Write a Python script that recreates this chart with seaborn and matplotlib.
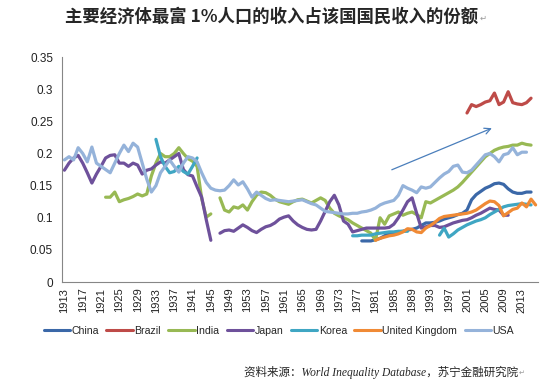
import numpy as np
import pandas as pd
import seaborn as sns
import matplotlib
matplotlib.use("Agg")
import matplotlib.pyplot as plt
from matplotlib.lines import Line2D
from matplotlib.ticker import FuncFormatter, FixedLocator

nan = np.nan

# top 1% income share
china_years = list(range(1978, 2016))
china = [0.064, 0.064, 0.064, 0.066, 0.068, 0.072, 0.076, 0.077, 0.078, 0.079,
         0.081, 0.082, 0.084, 0.088, 0.092, 0.092, 0.093, 0.095, 0.098, 0.100,
         0.102, 0.105, 0.107, 0.112, 0.128, 0.136, 0.141, 0.146, 0.149, 0.153,
         0.154, 0.152, 0.145, 0.140, 0.138, 0.138, 0.140, 0.140]

brazil_years = list(range(2001, 2016))
brazil = [0.263, 0.276, 0.273, 0.276, 0.280, 0.282, 0.294, 0.276, 0.280, 0.296,
          0.279, 0.277, 0.276, 0.279, 0.286]

india_years = list(range(1922, 2016))
india = [0.132, 0.132, 0.140, 0.125, 0.128, 0.130, 0.133, 0.137, 0.134, 0.137,
         0.165, 0.185, 0.200, 0.195, 0.195, 0.200, 0.209, 0.200, 0.192, 0.188,
         0.180, 0.130, 0.101, 0.106, nan,
         0.131, 0.112, 0.109, 0.117, 0.115, 0.120, 0.112, 0.125, 0.135, 0.140,
         0.139, 0.135, 0.129, 0.125, 0.123, 0.121, 0.125, 0.128, 0.129, 0.126,
         0.123, 0.127, 0.131, 0.127, 0.115, 0.107, 0.103, 0.100, 0.097, 0.092,
         0.088, 0.084, 0.080, 0.076, 0.065, 0.100, 0.090, 0.103, 0.106, 0.109,
         0.104, 0.107, 0.109, 0.105, 0.100, 0.125, 0.123, 0.127, 0.131, 0.135,
         0.139, 0.143, 0.148, 0.155, 0.163, 0.171, 0.179, 0.187, 0.195, 0.200,
         0.205, 0.208, 0.210, 0.211, 0.213, 0.213, 0.216, 0.214, 0.213]

japan_years = list(range(1913, 2011))
japan = [0.174, 0.185, 0.193, 0.197, 0.185, 0.170, 0.154, 0.168, 0.180, 0.193,
         0.197, 0.198, 0.185, 0.185, 0.180, 0.185, 0.182, 0.168, 0.174, 0.176,
         0.182, 0.187, 0.185, 0.190, 0.195, 0.200, 0.175, 0.167, 0.165, 0.148,
         0.132, 0.097, 0.065, nan,
         0.076, 0.080, 0.081, 0.079, 0.084, 0.089, 0.085, 0.080, 0.077, 0.082,
         0.086, 0.088, 0.092, 0.098, 0.101, 0.103, 0.095, 0.089, 0.085, 0.082,
         0.081, 0.082, 0.095, 0.110, 0.125, 0.135, 0.120, 0.095, 0.090, 0.078,
         0.080, 0.082, 0.084, 0.084, 0.084, 0.084, 0.084, 0.085, 0.090, 0.100,
         0.112, 0.125, 0.131, 0.107, 0.084, 0.086, 0.088, 0.088, 0.085, 0.086,
         0.089, 0.092, 0.094, 0.096, 0.097, 0.100, 0.104, 0.107, 0.111, 0.115,
         0.113, 0.112, 0.104, 0.104]

korea_years = list(range(1933, 2016))
korea = [0.222, 0.195, 0.180, 0.170, 0.172, 0.180, 0.172, 0.168, 0.180, 0.193] + \
        [nan] * 33 + \
        [0.072, 0.072, 0.073, 0.073, 0.073, 0.075, 0.076, 0.077, 0.078, 0.078,
         0.079, 0.079, 0.079, nan, nan, nan, nan, nan, nan,
         0.073, 0.084, 0.070, 0.075, 0.081, 0.085, 0.089, 0.092, 0.095, 0.097,
         0.100, 0.105, 0.109, 0.113, 0.117, 0.119, 0.120, 0.121, 0.122, 0.121,
         0.120]

uk_years = list(range(1981, 2017))
uk = [0.065, 0.068, 0.070, 0.072, 0.073, 0.075, 0.078, 0.083, 0.082, 0.078,
      0.077, 0.084, 0.088, 0.093, 0.099, 0.102, 0.103, 0.104, 0.105, 0.106,
      0.107, 0.109, 0.112, 0.117, 0.122, 0.126, 0.125, 0.119, 0.103, 0.108,
      0.113, 0.115, 0.123, 0.117, 0.129, 0.120]

usa_years = list(range(1913, 2015))
usa = [0.190, 0.195, 0.190, 0.209, 0.200, 0.187, 0.210, 0.185, 0.180, 0.175,
       0.170, 0.185, 0.200, 0.213, 0.203, 0.216, 0.210, 0.185, 0.160, 0.140,
       0.150, 0.170, 0.180, 0.190, 0.180, 0.171, 0.185, 0.195, 0.193, 0.187,
       0.170, 0.155, 0.146, 0.143, 0.142, 0.143, 0.150, 0.159, 0.151, 0.156,
       0.145, 0.132, 0.140, 0.135, 0.130, 0.127, 0.128, 0.127, 0.126, 0.125,
       0.126, 0.127, 0.128, 0.125, 0.122, 0.120, 0.115, 0.110, 0.109, 0.108,
       0.107, 0.106, 0.106, 0.107, 0.107, 0.109, 0.110, 0.112, 0.115, 0.120,
       0.123, 0.125, 0.127, 0.135, 0.150, 0.146, 0.143, 0.139, 0.148, 0.146,
       0.148, 0.155, 0.162, 0.168, 0.172, 0.180, 0.182, 0.171, 0.170, 0.174,
       0.182, 0.190, 0.198, 0.200, 0.195, 0.187, 0.198, 0.200, 0.209, 0.198,
       0.202, 0.202]

countries = ["China", "Brazil", "India", "Japan", "Korea", "United Kingdom", "USA"]
colors = ["#3B68A8", "#BE4B48", "#98B954", "#6E519B", "#3FA6C3", "#F08A35", "#95B3DA"]

title = "主要经济体最富 1%人口的收入占该国国民收入的份额"
source = "资料来源：World Inequality Database，苏宁金融研究院"


def to_long(name, years, values):
    df = pd.DataFrame({"year": years, "share": values})
    df["country"] = name
    # new segment after every gap so lines are not joined across missing years
    df["seg"] = name + "-" + df["share"].isna().cumsum().astype(str)
    return df.dropna()


series = [(china_years, china), (brazil_years, brazil), (india_years, india),
          (japan_years, japan), (korea_years, korea), (uk_years, uk), (usa_years, usa)]
data = pd.concat([to_long(n, y, v) for n, (y, v) in zip(countries, series)], ignore_index=True)

sns.set_theme(style="white")
plt.rcParams["font.family"] = ["Liberation Sans", "Noto Sans CJK SC", "DejaVu Sans"]

fig = plt.figure(figsize=(5.5, 3.88), dpi=100)
ax = fig.add_axes([0.113, 0.273, 0.865, 0.58])

sns.lineplot(data=data, x="year", y="share", hue="country", hue_order=countries,
             units="seg", estimator=None, palette=colors, linewidth=2.3,
             legend=False, ax=ax)

ax.annotate("", xy=(2007, 0.241), xytext=(1984, 0.173),
            arrowprops=dict(arrowstyle="->", color="#4A7EBB", lw=0.9, mutation_scale=11))

ax.set_xlim(1912.5, 2016.5)
ax.set_ylim(0, 0.35)
ax.set_yticks(np.arange(0, 0.351, 0.05))
ax.yaxis.set_major_formatter(FuncFormatter(lambda v, p: "%g" % round(v, 2)))
ax.set_xticks(range(1913, 2014, 4))
ax.set_xticklabels([str(y) for y in range(1913, 2014, 4)], rotation=90)
ax.xaxis.set_minor_locator(FixedLocator(np.arange(1912.5, 2017, 1)))
ax.tick_params(axis="x", which="major", length=0, labelsize=8, pad=4, colors="#222222")
ax.tick_params(axis="x", which="minor", length=3.5, width=0.7, color="#868686")
ax.tick_params(axis="y", length=3.5, width=0.7, color="#868686", labelsize=8.5,
               labelcolor="#222222", pad=3)
ax.set_xlabel("")
ax.set_ylabel("")
for s in ["top", "right"]:
    ax.spines[s].set_visible(False)
for s in ["left", "bottom"]:
    ax.spines[s].set_color("#868686")
    ax.spines[s].set_linewidth(0.8)

handles = [Line2D([], [], color=c, lw=2.2) for c in colors]
fig.legend(handles, countries, loc="center", bbox_to_anchor=(0.507, 0.147), ncol=7,
           frameon=False, fontsize=7.6, handlelength=2.5, handletextpad=0.15,
           columnspacing=0.7, borderaxespad=0)

fig.text(0.493, 0.956, title, ha="center", va="center", fontsize=12.5, fontweight="bold",
         family=["Noto Sans CJK SC", "DejaVu Sans"])
fig.text(0.872, 0.952, "↵", ha="left", va="center", fontsize=6, color="#999999",
         family=["DejaVu Sans"])
fig.text(0.942, 0.039, source, ha="right", va="center", fontsize=8.3, style="italic",
         family=["Liberation Serif", "Noto Sans CJK SC"])
fig.text(0.943, 0.039, "↵", ha="left", va="center", fontsize=5, color="#999999",
         family=["DejaVu Sans"])

fig.savefig("out.png", dpi=100)
